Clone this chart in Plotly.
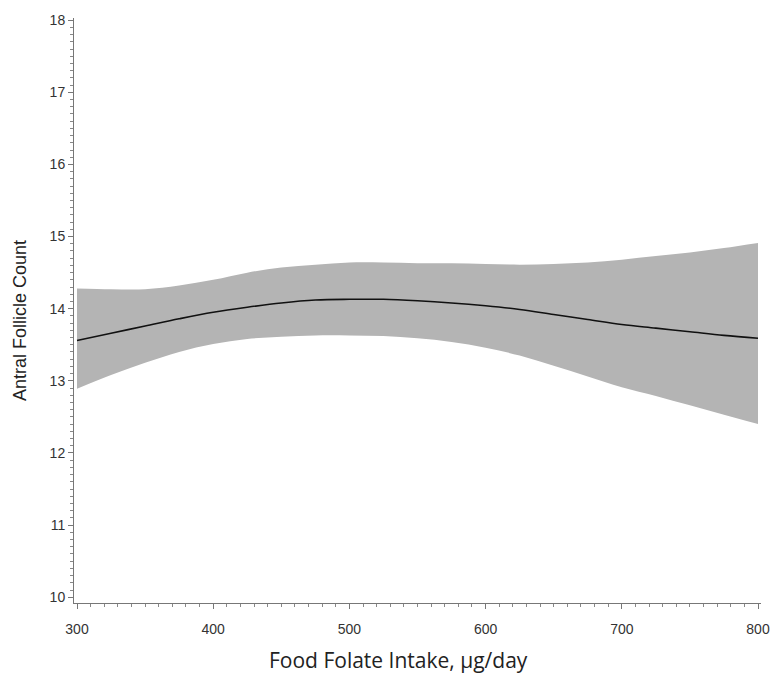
import plotly.graph_objects as go

folate = [300, 325, 350, 375, 400, 425, 450, 475, 500, 525, 550, 575, 600,
          625, 650, 675, 700, 725, 750, 775, 800]
afc_fit = [13.56, 13.66, 13.76, 13.86, 13.95, 14.02, 14.08, 14.12, 14.13, 14.13, 14.11,
           14.08, 14.04, 13.99, 13.92, 13.85, 13.78, 13.73, 13.68, 13.63, 13.59]
afc_upper = [14.28, 14.27, 14.27, 14.32, 14.40, 14.50, 14.57, 14.61, 14.64, 14.64, 14.63,
             14.63, 14.62, 14.61, 14.62, 14.64, 14.68, 14.73, 14.78, 14.84, 14.91]
afc_lower = [12.89, 13.08, 13.25, 13.40, 13.51, 13.58, 13.61, 13.63, 13.63, 13.62, 13.59,
             13.54, 13.46, 13.35, 13.21, 13.06, 12.91, 12.79, 12.66, 12.53, 12.40]

x_ticks = [300, 400, 500, 600, 700, 800]
y_ticks = [10, 11, 12, 13, 14, 15, 16, 17, 18]

fig = go.Figure()
fig.add_trace(go.Scatter(
    x=folate, y=afc_lower, mode="lines", line=dict(width=0, shape="spline", color="#b4b4b4"),
    hoverinfo="skip", showlegend=False))
fig.add_trace(go.Scatter(
    x=folate, y=afc_upper, mode="lines", fill="tonexty", fillcolor="#b4b4b4",
    line=dict(width=0, shape="spline", color="#b4b4b4"),
    hoverinfo="skip", showlegend=False))
fig.add_trace(go.Scatter(
    x=folate, y=afc_fit, mode="lines", line=dict(color="#111111", width=1.6, shape="spline"),
    showlegend=False))

tickfont = dict(family="Arial, Liberation Sans, sans-serif", size=14, color="#333333")
fig.update_layout(
    width=772, height=675,
    margin=dict(l=74, r=11, t=18, b=72),
    plot_bgcolor="white", paper_bgcolor="white",
    xaxis=dict(range=[297.8, 802.2], tickvals=x_ticks, ticks="outside", ticklen=5,
               tickcolor="#777777", showline=True, linecolor="#777777", linewidth=1,
               showgrid=False, zeroline=False, tickfont=tickfont, automargin=False,
               ticklabelstandoff=8,
               minor=dict(dtick=10, tick0=300, ticks="outside", ticklen=3, tickcolor="#888888")),
    yaxis=dict(range=[9.92, 18.03], tickvals=y_ticks, ticks="outside", ticklen=5,
               tickcolor="#777777", showline=True, linecolor="#777777", linewidth=1,
               showgrid=False, zeroline=False, tickfont=tickfont, automargin=False,
               minor=dict(dtick=0.1, tick0=10, ticks="outside", ticklen=3, tickcolor="#888888")),
    annotations=[
        dict(text="Food Folate Intake, µg/day", xref="paper", yref="paper",
             x=0.472, y=-0.0974, xanchor="center", yanchor="middle", showarrow=False,
             font=dict(family="Open Sans, sans-serif", size=21, color="#222222")),
        dict(text="Antral Follicle Count", xref="paper", yref="paper",
             x=-0.0786, y=0.482, xanchor="center", yanchor="middle", textangle=-90,
             showarrow=False,
             font=dict(family="Arial, Liberation Sans, sans-serif", size=18, color="#222222")),
    ],
)

fig.write_html("out.html", config={"displayModeBar": False},
               post_script="document.body.style.margin='0';")
